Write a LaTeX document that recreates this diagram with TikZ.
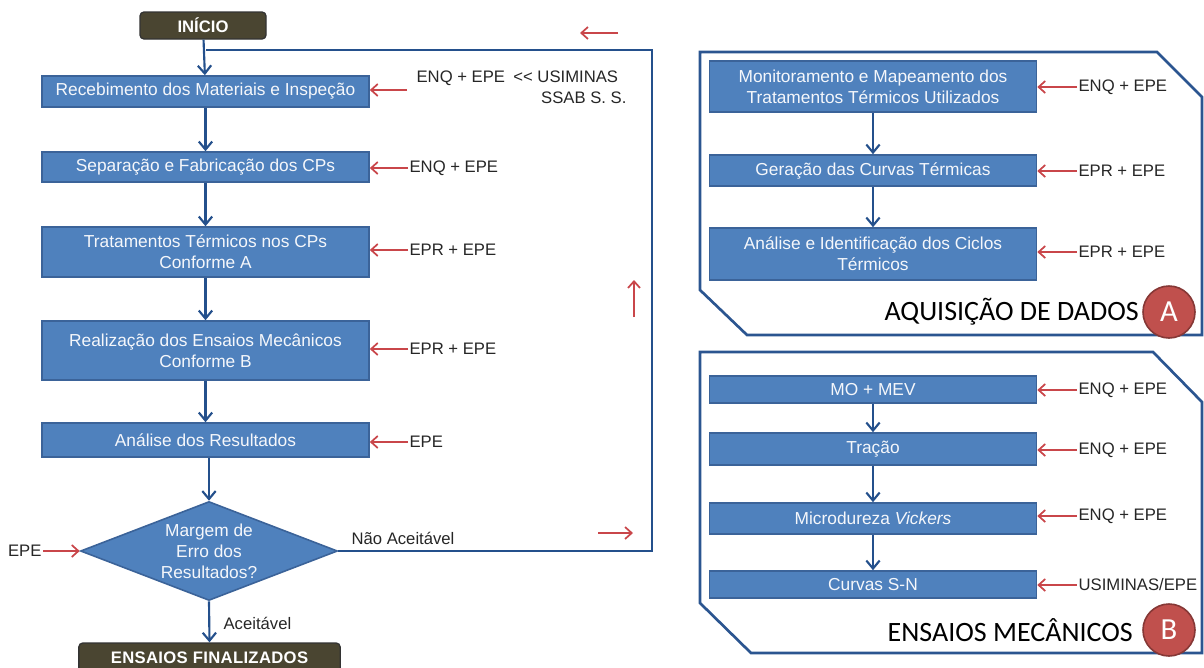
\documentclass[tikz,border=0pt]{standalone}
\usepackage{fontspec}
\setmainfont{Liberation Sans}
\newfontfamily\calibri{Carlito}
\usetikzlibrary{arrows.meta,shapes.geometric}
\definecolor{boxblue}{HTML}{4F81BD}
\definecolor{boxedge}{HTML}{3B6399}
\definecolor{flowblue}{HTML}{24508C}
\definecolor{inred}{HTML}{C9464A}
\definecolor{olive}{HTML}{4A4531}
\definecolor{panelblue}{HTML}{2B5590}
\definecolor{circred}{HTML}{C0504D}
\definecolor{labelgray}{HTML}{262626}

\begin{document}
\begin{tikzpicture}[x=0.75pt,y=-0.75pt,
  stage/.style={draw=boxedge, line width=1.2pt, fill=boxblue, text=white!94!boxblue, minimum width=245.25pt, inner sep=0pt, align=center, font=\fontsize{13}{15.75}\selectfont},
  term/.style={draw=black!80, line width=1pt, fill=olive, rounded corners=3pt, text=white, inner sep=0pt, font=\fontsize{12.5}{15}\selectfont\bfseries},
  flow/.style={draw=flowblue, line width=1.6pt, -{Straight Barb[length=6pt,width=10pt]}},
  loopline/.style={draw=flowblue, line width=1.4pt},
  inarrow/.style={draw=inred, line width=1.3pt, -{Straight Barb[length=5pt,width=9pt]}},
  lbl/.style={text=labelgray, inner sep=1pt, font=\fontsize{12.5}{15}\selectfont},
  panel/.style={draw=panelblue, line width=2pt},
  title/.style={text=black, inner sep=0pt, font=\calibri\fontsize{21}{25}\selectfont},
  badge/.style={circle, draw=circred!70!black, line width=1.2pt, fill=circred, text=white, minimum size=39pt, inner sep=0pt, font=\calibri\fontsize{23}{27}\selectfont}]
  \useasboundingbox (0,0) rectangle (1204,668);

  % panels
  \draw[panel] (700,52) -- (1157,52) -- (1202,97) -- (1202,335) -- (747,335) -- (700,290) -- cycle;
  \draw[panel] (700,352) -- (1153,352) -- (1202,402) -- (1202,653) -- (751,653) -- (700,603) -- cycle;

  % main flow
  \node[term, minimum width=94.5pt, minimum height=20.25pt] (start) at (203,25.5) {INÍCIO};
  \node[stage, minimum height=23.25pt] (b1) at (205.5,91.5) {Recebimento dos Materiais e Inspeção};
  \node[stage, minimum height=22.5pt] (b2) at (205.5,167) {Separação e Fabricação dos CPs};
  \node[stage, minimum height=37.5pt] (b3) at (205.5,252) {Tratamentos Térmicos nos CPs\\Conforme A};
  \node[stage, minimum height=44.25pt] (b4) at (205.5,350.5) {Realização dos Ensaios Mecânicos\\Conforme B};
  \node[stage, minimum height=25.5pt] (b5) at (205.5,440) {Análise dos Resultados};
  \node[stage, diamond, aspect=2.6, minimum width=192.75pt, minimum height=74.25pt] (dec) at (209,551) {Margem de\\Erro dos\\Resultados?};
  \node[term, minimum width=196pt, minimum height=22.5pt, font=\fontsize{12.5}{15}\selectfont\bfseries\addfontfeature{LetterSpace=2}] (fin) at (209.5,658) {ENSAIOS FINALIZADOS};

  \draw[flow] (start) -- (b1);
  \draw[flow] (b1) -- (b2);
  \draw[flow] (b2) -- (b3);
  \draw[flow] (b3) -- (b4);
  \draw[flow] (b4) -- (b5);
  \draw[flow] (b5.south -| dec.north) -- (dec.north);
  \draw[flow] (dec.south) -- (fin.north);
  \node[lbl, anchor=west] (ok) at (222,623) {Aceitável};
  \node[lbl, anchor=west] (nok) at (350,538) {Não Aceitável};

  % return loop
  \coordinate (lr) at (652,551);
  \coordinate (tr) at (652,50);
  \coordinate (tl) at (206,50);
  \draw[loopline] (dec.east) -- (lr) -- (tr) -- (tl);
  \coordinate (rr) at (598,533);
  \coordinate (ru) at (634,317);
  \coordinate (rl) at (618,33);
  \draw[inarrow] (rr) -- ++(35,0);
  \draw[inarrow] (ru) -- ++(0,-37);
  \draw[inarrow] (rl) -- ++(-38,0);

  % inputs of the main flow
  \node[lbl, anchor=west] (l1) at (415,78) {ENQ + EPE\enspace <{}< USIMINAS};
  \node[lbl, anchor=east] (l1b) at (628,98) {SSAB S. S.};
  \coordinate (r1) at (407,90);
  \draw[inarrow] (r1) -- (r1 -| b1.east);
  \node[lbl, anchor=west] (l2) at (408,168) {ENQ + EPE};
  \node[lbl, anchor=west] (l3) at (408,250) {EPR + EPE};
  \node[lbl, anchor=west] (l4) at (408,349) {EPR + EPE};
  \node[lbl, anchor=west] (l5) at (408,442) {EPE};
  \draw[inarrow] (l2.west) -- (l2.west -| b2.east);
  \draw[inarrow] (l3.west) -- (l3.west -| b3.east);
  \draw[inarrow] (l4.west) -- (l4.west -| b4.east);
  \draw[inarrow] (l5.west) -- (l5.west -| b5.east);
  \node[lbl, anchor=east] (l6) at (43,551) {EPE};
  \draw[inarrow] (l6.east) -- (dec.west);

  % A
  \node[stage, minimum height=38.25pt] (a1) at (873,86.5) {Monitoramento e Mapeamento dos\\Tratamentos Térmicos Utilizados};
  \node[stage, minimum height=23.25pt] (a2) at (873,170.5) {Geração das Curvas Térmicas};
  \node[stage, minimum height=39pt] (a3) at (873,254) {Análise e Identificação dos Ciclos\\Térmicos};
  \draw[flow] (a1) -- (a2);
  \draw[flow] (a2) -- (a3);
  \node[lbl, anchor=west] (la1) at (1077,87) {ENQ + EPE};
  \node[lbl, anchor=west] (la2) at (1077,171) {EPR + EPE};
  \node[lbl, anchor=west] (la3) at (1077,252) {EPR + EPE};
  \draw[inarrow] (la1.west) -- (la1.west -| a1.east);
  \draw[inarrow] (la2.west) -- (la2.west -| a2.east);
  \draw[inarrow] (la3.west) -- (la3.west -| a3.east);
  \node[title, anchor=east] (ta) at (1139,312) {AQUISIÇÃO DE DADOS};
  \node[badge] (ca) at (1169,312) {A};

  % B
  \node[stage, minimum height=20.25pt] (m1) at (873,389.5) {MO + MEV};
  \node[stage, minimum height=24pt] (m2) at (873,449) {Tração};
  \node[stage, minimum height=23.25pt] (m3) at (873,518.5) {Microdureza \textit{Vickers}};
  \node[stage, minimum height=20.25pt] (m4) at (873,584.5) {Curvas S-N};
  \draw[flow] (m1) -- (m2);
  \draw[flow] (m2) -- (m3);
  \draw[flow] (m3) -- (m4);
  \node[lbl, anchor=west] (lb1) at (1077,390) {ENQ + EPE};
  \node[lbl, anchor=west] (lb2) at (1077,450) {ENQ + EPE};
  \node[lbl, anchor=west] (lb3) at (1077,516) {ENQ + EPE};
  \node[lbl, anchor=west] (lb4) at (1077,585) {USIMINAS/EPE};
  \draw[inarrow] (lb1.west) -- (lb1.west -| m1.east);
  \draw[inarrow] (lb2.west) -- (lb2.west -| m2.east);
  \draw[inarrow] (lb3.west) -- (lb3.west -| m3.east);
  \draw[inarrow] (lb4.west) -- (lb4.west -| m4.east);
  \node[title, anchor=east] (tb) at (1133,630) {ENSAIOS MECÂNICOS};
  \node[badge] (cb) at (1169,630) {B};
\end{tikzpicture}
\end{document}
